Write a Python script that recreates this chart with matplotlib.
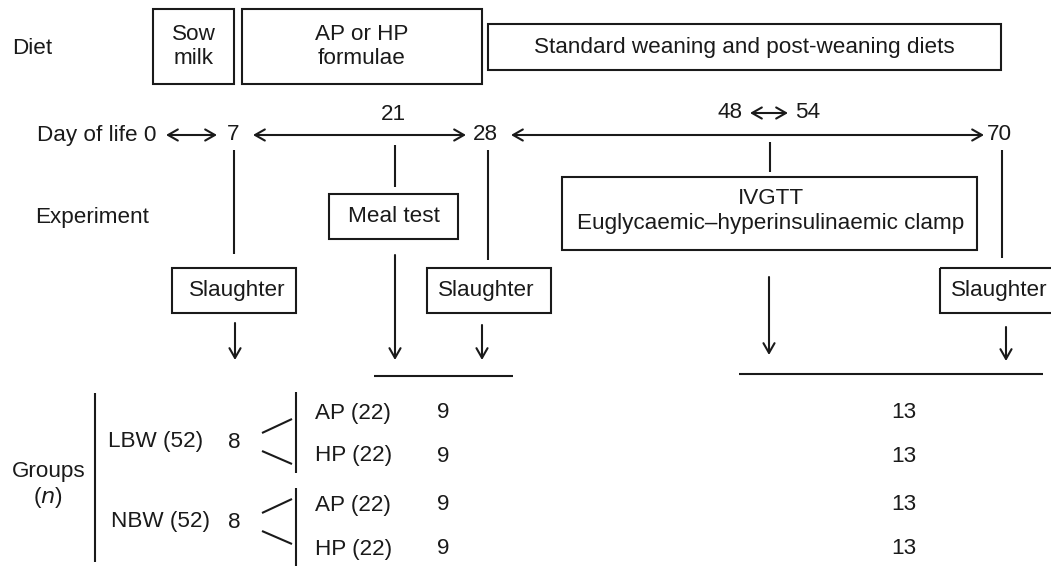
import matplotlib.pyplot as plt
from matplotlib.patches import Rectangle

plt.rcParams['font.family'] = ['Liberation Sans', 'DejaVu Sans']

# diet boxes: label, x range, y range (pixels)
diet_labels = ['Sow\nmilk', 'AP or HP\nformulae', 'Standard weaning and post-weaning diets']
diet_x = [(153, 234), (242, 482), (488, 1001)]
diet_y = [(9, 84), (9, 84), (24, 70)]

# days of life
day_labels = ['0', '7', '21', '28', '48', '54', '70']

# groups and numbers
birth_groups = ['LBW (52)', 'NBW (52)']
birth_n_d7 = [8, 8]
diet_groups = ['AP (22)', 'HP (22)', 'AP (22)', 'HP (22)']
n_d28 = [9, 9, 9, 9]
n_d70 = [13, 13, 13, 13]

FS = 16.2
INK = '#1a1a1a'
fig = plt.figure(figsize=(10.51, 5.66), dpi=100)
ax = fig.add_axes([0, 0, 1, 1])
ax.set_xlim(0, 1051)
ax.set_ylim(566, 0)
ax.axis('off')


def box(x0, x1, y0, y1, txt=None, tx=None, ty=None):
    ax.add_patch(Rectangle((x0, y0), x1 - x0, y1 - y0, fill=False, lw=1.5, ec=INK))
    if txt:
        ax.text(tx if tx else (x0 + x1) / 2, ty if ty else (y0 + y1) / 2, txt,
                ha='center', va='center', fontsize=FS, linespacing=1.2, color=INK)


def arrow(x0, y0, x1, y1, style='->'):
    ax.annotate('', xy=(x1, y1), xytext=(x0, y0),
                arrowprops=dict(arrowstyle=style + ',head_length=0.7,head_width=0.4',
                                lw=1.5, color=INK, shrinkA=0, shrinkB=0))


def line(xs, ys, lw=1.5):
    ax.plot(xs, ys, color=INK, lw=lw, solid_capstyle='butt')


def label(x, y, s, ha='left'):
    ax.text(x, y, s, fontsize=FS, va='center', ha=ha, color=INK)


# Diet row
label(12, 48, 'Diet')
for lab, (x0, x1), (y0, y1) in zip(diet_labels, diet_x, diet_y):
    box(x0, x1, y0, y1, lab)

# Day of life row
yd = 135
label(37, yd, 'Day of life ' + day_labels[0])
arrow(166, yd, 217, yd, '<->')
label(233, yd, day_labels[1], 'center')
arrow(253, yd, 466, yd, '<->')
label(393, 115, day_labels[2], 'center')
label(485, yd, day_labels[3], 'center')
arrow(511, yd, 984, yd, '<->')
label(730, 113, day_labels[4], 'center')
arrow(750, 113, 788, 113, '<->')
label(808, 113, day_labels[5], 'center')
label(999, yd, day_labels[6], 'center')

# Experiment row
label(35, 218, 'Experiment')
line([234, 234], [150, 254])
box(172, 296, 268, 313, 'Slaughter', tx=237)
arrow(235, 323, 235, 360)

line([395, 395], [145, 187])
box(329, 458, 194, 239, 'Meal test')
arrow(395, 255, 395, 360)

line([488, 488], [150, 260])
box(427, 551, 268, 313, 'Slaughter', tx=486)
arrow(482, 325, 482, 360)
line([374, 513], [376, 376])

line([770, 770], [142, 172])
box(562, 977, 177, 250, 'IVGTT\nEuglycaemic\u2013hyperinsulinaemic clamp', tx=771, ty=211)
arrow(769, 277, 769, 355)

line([1002, 1002], [150, 258])
box(940, 1060, 268, 313, 'Slaughter', tx=999)
arrow(1006, 327, 1006, 361)
line([739, 1043], [374, 374])

# Groups
line([95, 95], [393, 562])
label(49, 471, 'Groups', 'center')
label(48, 497, '($\\it{n}$)', 'center')

group_y = [442, 522]
group_x = [108, 111]
for g, n, x, y in zip(birth_groups, birth_n_d7, group_x, group_y):
    label(x, y, g)
    label(234, y, str(n), 'center')
    line([262, 292], [y - 9, y - 23])
    line([262, 292], [y + 9, y + 22])
line([296, 296], [392, 473])
line([296, 296], [488, 566])

sub_y = [413, 456, 505, 549]
for g, a, b, y in zip(diet_groups, n_d28, n_d70, sub_y):
    label(315, y, g)
    label(443, y, str(a), 'center')
    label(904, y, str(b), 'center')

fig.savefig('out.png', dpi=100)
